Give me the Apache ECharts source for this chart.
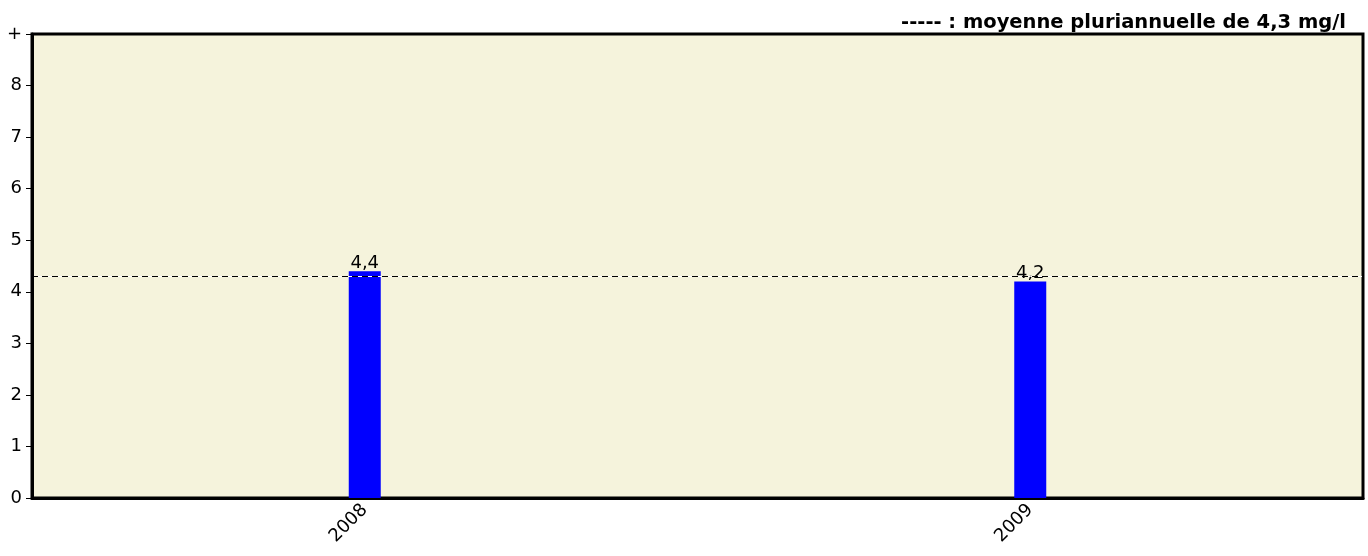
<!DOCTYPE html>
<html><head><meta charset="utf-8">
<script src="https://cdn.jsdelivr.net/npm/echarts@6/dist/echarts.min.js"></script>
<style>html,body{margin:0;padding:0;background:#fff}#c{width:1368px;height:556px}</style>
</head><body><div id="c"></div>
<script>
const categories = ['2008', '2009'];
const values = [4.4, 4.2];
const meanValue = 4.3;
const titleText = '----- : moyenne pluriannuelle de 4,3 mg/l';
const yMax = 9;
const FF = '"DejaVu Sans", Verdana, sans-serif';

const chart = echarts.init(document.getElementById('c'));
chart.setOption({
  animation: false,
  textStyle: { fontFamily: FF },
  title: {
    text: titleText, right: 17, top: 8,
    textStyle: { fontFamily: FF, fontWeight: 'bold', fontSize: 19.5, color: '#000' }
  },
  grid: {
    left: 32, right: 5, top: 34, bottom: 58, show: true,
    backgroundColor: '#f5f3dc', borderColor: '#000', borderWidth: 3
  },
  xAxis: {
    type: 'category', data: categories,
    axisLine: { show: true, lineStyle: { color: '#000', width: 3 } },
    axisTick: { show: false },
    axisLabel: { rotate: 45, fontSize: 18, color: '#000', margin: 9, fontFamily: FF }
  },
  yAxis: {
    type: 'value', min: 0, max: yMax, interval: 1,
    splitLine: { show: false },
    axisLine: { show: true, lineStyle: { color: '#000', width: 3 } },
    axisTick: { show: true, length: 6, lineStyle: { color: '#000', width: 1 } },
    axisLabel: {
      fontSize: 18, color: '#000', margin: 10, fontFamily: FF,
      formatter: v => v === yMax ? '+' : String(v)
    }
  },
  series: [{
    type: 'bar', data: values, barWidth: 32,
    itemStyle: { color: '#0000ff' },
    label: {
      show: true, position: 'top', distance: -1, fontSize: 18, color: '#000',
      fontFamily: FF,
      formatter: p => String(p.value).replace('.', ',')
    },
    markLine: {
      silent: true, symbol: 'none', label: { show: false },
      data: [
        { yAxis: meanValue, lineStyle: { color: '#fff', type: 'solid', width: 1 } },
        { yAxis: meanValue, lineStyle: { color: '#000', type: [6, 4], width: 1 } }
      ]
    }
  }]
});
</script></body></html>
